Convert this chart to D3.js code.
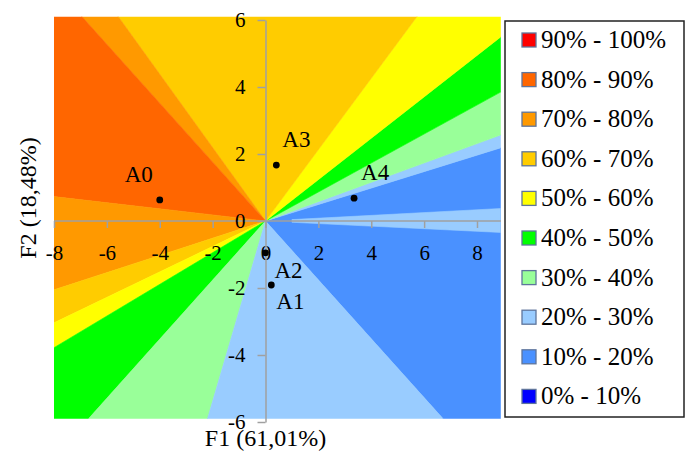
<!DOCTYPE html>
<html>
<head>
<meta charset="utf-8">
<script src="https://cdn.jsdelivr.net/npm/d3@7"></script>
<style>
  body { margin: 0; background: #fff; }
  svg text { font-family: "Liberation Serif", "Times New Roman", "DejaVu Serif", "Noto Serif", serif; }
</style>
</head>
<body>
<svg width="691" height="452"></svg>
<script>
// legend classes, top to bottom
var classLabels = ["90% - 100%", "80% - 90%", "70% - 80%", "60% - 70%", "50% - 60%",
                   "40% - 50%", "30% - 40%", "20% - 30%", "10% - 20%", "0% - 10%"];
var classColors = ["#ff0000", "#ff6600", "#ff9900", "#ffcc00", "#ffff00",
                   "#00ff00", "#99ff99", "#99ccff", "#4a91ff", "#0000ff"];

// sectors around the origin (angles in degrees, data space), class = index in classLabels
var sectorFrom  = [-41.3, 13.8, 16.1, 23.4, 31.7, 46.8, 132.4, 138.7, 174.8, 194.4, 200.8, 205.3, 221.4, 249.6, -2.2];
var sectorTo    = [13.8, 16.1, 23.4, 31.7, 46.8, 132.4, 138.7, 174.8, 194.4, 200.8, 205.3, 221.4, 249.6, 318.7, 2.4];
var sectorClass = [8, 7, 6, 5, 4, 3, 2, 1, 2, 3, 4, 5, 6, 7, 7];
var sectorInner = [0, 0, 0, 0, 0, 0, 0, 0, 0, 0, 0, 0, 0, 0, 1.0];

// observations
var pointNames = ["A0", "A1", "A2", "A3", "A4"];
var pointX = [-4.0, 0.22, 0.0, 0.41, 3.35];
var pointY = [0.63, -1.91, -0.95, 1.67, 0.68];
// label offsets (px) relative to each point
var labelDx = [-21, 5, 9, 6, 7];
var labelDy = [-18, 24, 25, -18, -18];
var labelAnchor = ["middle", "start", "start", "start", "start"];

var xTicks = [-8, -6, -4, -2, 0, 2, 4, 6, 8];
var yTicks = [-6, -4, -2, 0, 2, 4, 6];

const svg = d3.select("svg");
const x = d3.scaleLinear().domain([-8, 8]).range([54, 477]);
const y = d3.scaleLinear().domain([-6, 6]).range([422, 20]);
const xMin = -8, xMax = 8.9, yMin = -5.9, yMax = 6.1;

svg.append("clipPath").attr("id", "plotClip")
  .append("rect")
  .attr("x", x(xMin)).attr("y", y(yMax))
  .attr("width", x(xMax) - x(xMin)).attr("height", y(yMin) - y(yMax));

// sectors
var sectors = sectorFrom.map((a, i) => ({from: a, to: sectorTo[i], cls: sectorClass[i], r0: sectorInner[i]}));
function sectorPath(s) {
  var R = 60, pts = [];
  var n = Math.max(2, Math.ceil((s.to - s.from) / 5));
  for (var k = 0; k <= n; k++) {
    var a = (s.from + (s.to - s.from) * k / n) * Math.PI / 180;
    pts.push([x(R * Math.cos(a)), y(R * Math.sin(a))]);
  }
  if (s.r0 > 0) {
    for (var k = n; k >= 0; k--) {
      var a = (s.from + (s.to - s.from) * k / n) * Math.PI / 180;
      pts.push([x(s.r0 * Math.cos(a)), y(s.r0 * Math.sin(a))]);
    }
  } else {
    pts.unshift([x(0), y(0)]);
  }
  return d3.line()(pts) + "Z";
}
svg.append("g").attr("clip-path", "url(#plotClip)")
  .selectAll("path")
  .data(sectors)
  .enter().append("path")
  .attr("d", sectorPath)
  .attr("fill", d => classColors[d.cls])
  .attr("stroke", d => classColors[d.cls])
  .attr("stroke-width", 0.6);

// axes
var axisColor = "#a0a0a0";
var xAxis = svg.append("g")
  .attr("transform", "translate(0," + y(0) + ")")
  .call(d3.axisBottom(x).tickValues(xTicks).tickFormat(d => String(d))
    .tickSize(7).tickPadding(17).tickSizeOuter(0));
xAxis.select(".domain").remove();
xAxis.append("line").attr("x1", x(xMin)).attr("x2", x(xMax)).attr("stroke", axisColor).attr("stroke-width", 1.5);

var yAxis = svg.append("g")
  .attr("transform", "translate(" + x(0) + ",0)")
  .call(d3.axisLeft(y).tickValues(yTicks).tickFormat(d => String(d))
    .tickSize(8).tickPadding(12).tickSizeOuter(0));
yAxis.select(".domain").attr("stroke", axisColor).attr("stroke-width", 1.5);

svg.selectAll(".tick line").attr("stroke", axisColor).attr("stroke-width", 1.5);
svg.selectAll(".tick text").attr("font-size", 21).attr("fill", "#000");

// axis titles
svg.append("text")
  .attr("x", x(0)).attr("y", 446)
  .attr("text-anchor", "middle").attr("font-size", 24)
  .text("F1 (61,01%)");
svg.append("text")
  .attr("transform", "translate(36,198) rotate(-90)")
  .attr("text-anchor", "middle").attr("font-size", 24)
  .text("F2 (18,48%)");

// points
var pts = pointNames.map((n, i) => ({name: n, x: pointX[i], y: pointY[i], dx: labelDx[i], dy: labelDy[i], anchor: labelAnchor[i]}));
svg.append("g").selectAll("circle")
  .data(pts).enter().append("circle")
  .attr("cx", d => x(d.x)).attr("cy", d => y(d.y)).attr("r", 3.4)
  .attr("fill", "#000");
svg.append("g").selectAll("text")
  .data(pts).enter().append("text")
  .attr("x", d => x(d.x) + d.dx).attr("y", d => y(d.y) + d.dy)
  .attr("text-anchor", d => d.anchor)
  .attr("font-size", 23)
  .text(d => d.name);

// legend
var legend = svg.append("g");
legend.append("rect")
  .attr("x", 505).attr("y", 21).attr("width", 179).attr("height", 396)
  .attr("fill", "#fff").attr("stroke", "#222").attr("stroke-width", 1.5);
var item = legend.selectAll(".item")
  .data(classLabels).enter().append("g")
  .attr("class", "item")
  .attr("transform", (d, i) => "translate(0," + (40 + i * 39.6) + ")");
item.append("rect")
  .attr("x", 522).attr("y", -7).attr("width", 14).attr("height", 14)
  .attr("fill", (d, i) => classColors[i])
  .attr("stroke", "#5f759c").attr("stroke-width", 1.3);
item.append("text")
  .attr("x", 541).attr("y", 8)
  .attr("font-size", 25)
  .text(d => d);
</script>
</body>
</html>
